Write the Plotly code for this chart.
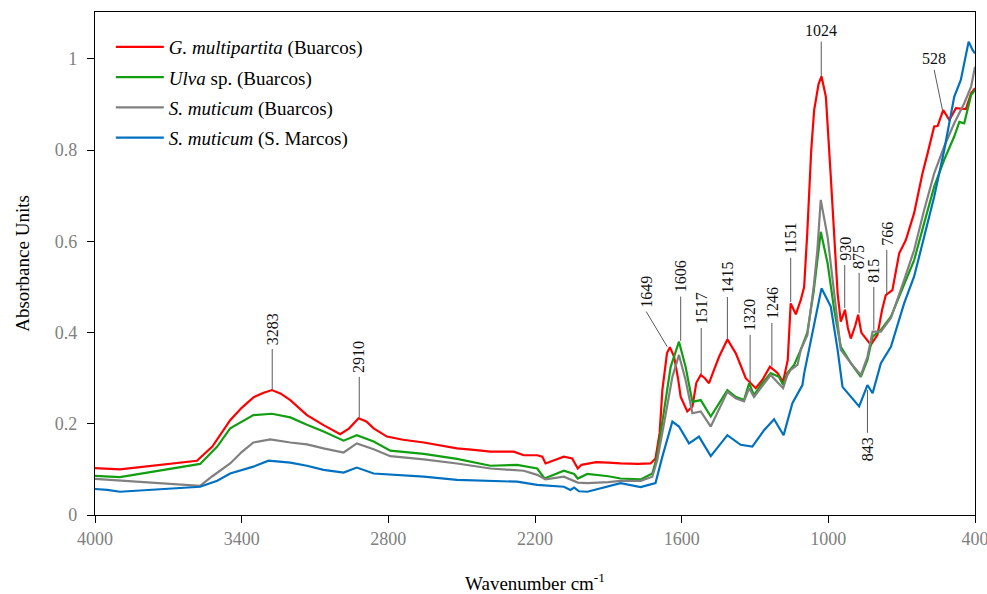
import plotly.graph_objects as go

# ---------------- data ----------------
wn_red = [4000, 3950, 3898, 3583, 3520, 3447, 3400, 3352, 3310, 3276, 3240, 3201, 3133, 3065, 2997, 2960,
          2922, 2890, 2860, 2806, 2740, 2655, 2590, 2519, 2450, 2382, 2287, 2246, 2191, 2170, 2157, 2120,
          2082, 2048, 2025, 2010, 1986, 1950, 1900, 1850, 1780, 1727, 1707, 1690, 1679, 1660, 1648, 1631,
          1615, 1604, 1577, 1556, 1540, 1522, 1505, 1488, 1470, 1447, 1413, 1379, 1360, 1338, 1297, 1270,
          1239, 1209, 1185, 1166, 1154, 1133, 1113, 1099, 1086, 1070, 1058, 1040, 1028, 1010, 990, 962,
          949, 932, 920, 908, 890, 878, 865, 853, 826, 799, 780, 765, 738, 710, 683, 649, 615, 594, 567,
          553, 530, 505, 478, 437, 416, 400]
abs_red = [0.103, 0.101, 0.100, 0.119, 0.150, 0.208, 0.235, 0.258, 0.268, 0.274, 0.266, 0.252, 0.219, 0.197,
           0.177, 0.190, 0.212, 0.205, 0.190, 0.172, 0.165, 0.159, 0.152, 0.146, 0.143, 0.139, 0.139, 0.131,
           0.131, 0.128, 0.113, 0.120, 0.128, 0.124, 0.102, 0.110, 0.112, 0.116, 0.115, 0.113, 0.112, 0.113,
           0.124, 0.180, 0.274, 0.355, 0.368, 0.347, 0.300, 0.259, 0.227, 0.238, 0.290, 0.307, 0.300, 0.289,
           0.315, 0.347, 0.385, 0.355, 0.330, 0.300, 0.278, 0.296, 0.325, 0.312, 0.292, 0.340, 0.464, 0.440,
           0.471, 0.500, 0.620, 0.800, 0.888, 0.945, 0.962, 0.917, 0.742, 0.486, 0.424, 0.450, 0.410, 0.387,
           0.415, 0.439, 0.400, 0.391, 0.373, 0.395, 0.450, 0.482, 0.493, 0.574, 0.603, 0.662, 0.749, 0.793,
           0.852, 0.853, 0.888, 0.866, 0.892, 0.890, 0.925, 0.936]

wn_green = [4000, 3950, 3898, 3570, 3500, 3447, 3400, 3352, 3276, 3201, 3133, 3065, 2983, 2929, 2860, 2792,
            2655, 2519, 2382, 2273, 2191, 2161, 2082, 2040, 2025, 1986, 1900, 1850, 1768, 1720, 1700, 1679,
            1645, 1611, 1584, 1556, 1522, 1481, 1447, 1413, 1379, 1345, 1324, 1304, 1276, 1236, 1202, 1185,
            1168, 1140, 1113, 1086, 1060, 1045, 1031, 1003, 976, 949, 908, 867, 840, 819, 785, 744, 690, 649,
            608, 567, 526, 485, 464, 444, 416, 400]
abs_green = [0.086, 0.084, 0.083, 0.112, 0.150, 0.190, 0.205, 0.219, 0.222, 0.214, 0.198, 0.183, 0.163, 0.175,
             0.161, 0.141, 0.134, 0.123, 0.108, 0.110, 0.102, 0.080, 0.097, 0.090, 0.080, 0.090, 0.085, 0.080,
             0.078, 0.091, 0.130, 0.201, 0.325, 0.380, 0.325, 0.248, 0.252, 0.216, 0.245, 0.274, 0.259, 0.252,
             0.289, 0.263, 0.285, 0.311, 0.303, 0.285, 0.311, 0.329, 0.362, 0.400, 0.490, 0.560, 0.621, 0.552,
             0.450, 0.369, 0.333, 0.303, 0.340, 0.391, 0.406, 0.435, 0.508, 0.559, 0.640, 0.720, 0.779, 0.830,
             0.862, 0.859, 0.921, 0.932]

wn_gray = [4000, 3570, 3520, 3447, 3400, 3352, 3283, 3201, 3133, 3065, 2983, 2929, 2860, 2792, 2655, 2519,
           2382, 2246, 2191, 2157, 2082, 2025, 1986, 1900, 1850, 1768, 1720, 1700, 1672, 1638, 1611, 1584,
           1556, 1522, 1481, 1413, 1379, 1345, 1324, 1304, 1236, 1185, 1168, 1154, 1126, 1113, 1086, 1060,
           1045, 1031, 1003, 976, 949, 908, 867, 840, 819, 785, 744, 690, 649, 608, 567, 526, 485, 444, 416, 400]
abs_gray = [0.079, 0.064, 0.085, 0.113, 0.138, 0.159, 0.166, 0.159, 0.155, 0.146, 0.137, 0.157, 0.144, 0.129,
            0.122, 0.113, 0.102, 0.097, 0.088, 0.078, 0.084, 0.071, 0.070, 0.072, 0.075, 0.075, 0.084, 0.120,
            0.201, 0.303, 0.351, 0.296, 0.223, 0.227, 0.194, 0.270, 0.256, 0.249, 0.278, 0.259, 0.307, 0.278,
            0.306, 0.318, 0.329, 0.362, 0.394, 0.500, 0.580, 0.691, 0.610, 0.479, 0.362, 0.333, 0.307, 0.347,
            0.402, 0.402, 0.432, 0.515, 0.581, 0.669, 0.749, 0.808, 0.859, 0.903, 0.939, 0.983]

wn_blue = [4000, 3950, 3898, 3570, 3500, 3447, 3352, 3290, 3201, 3133, 3065, 2983, 2929, 2860, 2655, 2519,
           2273, 2191, 2082, 2055, 2040, 2020, 1986, 1900, 1850, 1768, 1707, 1679, 1638, 1611, 1570, 1529,
           1481, 1413, 1359, 1311, 1263, 1222, 1183, 1147, 1106, 1099, 1058, 1028, 990, 962, 942, 908, 874,
           840, 819, 785, 744, 690, 649, 608, 567, 526, 485, 458, 426, 410, 400]
abs_blue = [0.057, 0.055, 0.051, 0.062, 0.075, 0.091, 0.106, 0.119, 0.115, 0.108, 0.099, 0.093, 0.104, 0.091,
            0.084, 0.077, 0.073, 0.066, 0.062, 0.055, 0.060, 0.052, 0.051, 0.063, 0.070, 0.061, 0.070, 0.128,
            0.205, 0.194, 0.157, 0.172, 0.129, 0.175, 0.154, 0.150, 0.186, 0.210, 0.175, 0.245, 0.285, 0.310,
            0.420, 0.497, 0.457, 0.362, 0.281, 0.259, 0.238, 0.285, 0.267, 0.333, 0.369, 0.464, 0.523, 0.610,
            0.698, 0.800, 0.917, 0.954, 1.038, 1.020, 1.012]

series_names = ["<i>G. multipartita</i> (Buarcos)", "<i>Ulva</i> sp. (Buarcos)",
                "<i>S. muticum</i> (Buarcos)", "<i>S. muticum</i> (S. Marcos)"]
series_colors = ["#FF0000", "#119E11", "#808080", "#0070C0"]

x_ticks = [4000, 3400, 2800, 2200, 1600, 1000, 400]
y_ticks = [0, 0.2, 0.4, 0.6, 0.8, 1]

# peak labels: label, line bottom (x, y), line top (x, y)
peak_labels = ["3283", "2910", "1649", "1606", "1517", "1415", "1320", "1246", "1151",
               "930", "875", "815", "766"]
peak_line_x0 = [3275, 2919, 1659, 1604, 1520, 1413, 1320, 1231, 1154, 933, 874, 814, 761]
peak_line_y0 = [0.274, 0.213, 0.369, 0.382, 0.309, 0.386, 0.289, 0.327, 0.467, 0.454, 0.443, 0.406, 0.482]
peak_line_x1 = [3275, 2919, 1745, 1604, 1520, 1413, 1320, 1231, 1154, 933, 874, 814, 761]
peak_line_y1 = [0.364, 0.303, 0.446, 0.479, 0.410, 0.478, 0.395, 0.421, 0.564, 0.548, 0.531, 0.500, 0.581]

# ---------------- figure ----------------
FONT = "Liberation Serif"
LBL = dict(family=FONT, size=16, color="#111111")
fig = go.Figure()
for i, (wn, ab, name, col) in enumerate(zip([wn_red, wn_green, wn_gray, wn_blue],
                                            [abs_red, abs_green, abs_gray, abs_blue],
                                            series_names, series_colors)):
    fig.add_trace(go.Scatter(x=wn, y=ab, mode="lines", name=name, legendgroup=f"g{i}",
                             line=dict(color=col, width=2.2)))

LINE_COL = "#595959"
for lab, x0, y0, x1, y1 in zip(peak_labels, peak_line_x0, peak_line_y0, peak_line_x1, peak_line_y1):
    fig.add_shape(type="line", x0=x0, y0=y0, x1=x1, y1=y1, xref="x", yref="y",
                  line=dict(color=LINE_COL, width=1))
    fig.add_annotation(x=x1, y=y1, text=lab, showarrow=False, textangle=-90,
                       xanchor="center", yanchor="bottom", yshift=2, font=LBL)

# 1024 (horizontal label)
fig.add_shape(type="line", x0=1029, y0=0.961, x1=1029, y1=1.038, line=dict(color=LINE_COL, width=1))
fig.add_annotation(x=1029, y=1.038, text="1024", showarrow=False, xanchor="center", yanchor="bottom",
                   yshift=1, font=LBL)
# 528 (horizontal, slanted leader)
fig.add_shape(type="line", x0=533, y0=0.888, x1=567, y1=0.976, line=dict(color=LINE_COL, width=1))
fig.add_annotation(x=567, y=0.976, text="528", showarrow=False, xanchor="center", yanchor="bottom",
                   yshift=1, font=LBL)
# 843 (label below)
fig.add_shape(type="line", x0=840, y0=0.274, x1=840, y1=0.180, line=dict(color=LINE_COL, width=1))
fig.add_annotation(x=840, y=0.180, text="843", showarrow=False, textangle=-90, xanchor="center",
                   yanchor="top", yshift=-2, font=LBL)

fig.update_layout(
    width=987, height=594,
    margin=dict(l=95, r=12, t=12, b=79, autoexpand=False),
    plot_bgcolor="white", paper_bgcolor="white",
    font=dict(family=FONT, size=16, color="#000000"),
    showlegend=True,
    legend=dict(x=0.018, y=0.968, xanchor="left", yanchor="top", bgcolor="rgba(0,0,0,0)",
                font=dict(family=FONT, size=19, color="#000000"), tracegroupgap=2.5,
                traceorder="grouped", itemwidth=48),
    xaxis=dict(range=[4000, 400], tickvals=x_ticks, ticktext=[str(v) for v in x_ticks],
               showgrid=False, zeroline=False, showline=True, linecolor="black", linewidth=1.3,
               mirror=True, ticks="outside", ticklen=7, tickcolor="black", ticklabeloverflow="allow",
               tickfont=dict(family=FONT, size=18, color="#808080"),
               title=dict(text="Wavenumber cm<sup>-1</sup>", font=dict(family=FONT, size=19, color="#000000"),
                          standoff=28)),
    yaxis=dict(range=[0, 1.103], tickvals=y_ticks, ticktext=["0", "0.2", "0.4", "0.6", "0.8", "1"],
               showgrid=False, zeroline=False, showline=True, linecolor="black", linewidth=1.3,
               mirror=True, ticks="outside", ticklen=7, tickcolor="black", ticklabelstandoff=6,
               tickfont=dict(family=FONT, size=18, color="#808080"),
               title=dict(text="Absorbance Units", font=dict(family=FONT, size=19, color="#000000"),
                          standoff=20)),
)

fig.write_html("out.html")
